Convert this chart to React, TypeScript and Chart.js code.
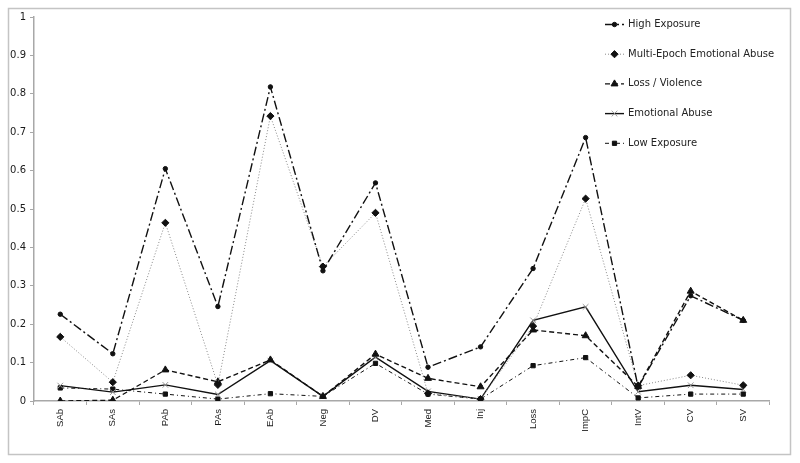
import React, { useEffect, useRef } from "react";
import { Chart, registerables } from "chart.js";
import { drawPoint } from "chart.js/helpers";

Chart.register(...registerables);

const categories = ["SAb", "SAs", "PAb", "PAs", "EAb", "Neg", "DV", "Med", "Inj", "Loss", "ImpC", "IntV", "CV", "SV"];
const yTickLabels = [0, 0.1, 0.2, 0.3, 0.4, 0.5, 0.6, 0.7, 0.8, 0.9, 1];

const highExposure = [0.226, 0.123, 0.605, 0.246, 0.818, 0.339, 0.568, 0.088, 0.141, 0.345, 0.686, 0.036, 0.274, 0.21];
const multiEpoch = [0.167, 0.049, 0.464, 0.042, 0.742, 0.35, 0.49, 0.02, 0.005, 0.195, 0.527, 0.04, 0.067, 0.041];
const lossViolence = [0, 0.002, 0.081, 0.05, 0.107, 0.012, 0.122, 0.059, 0.037, 0.185, 0.17, 0.038, 0.286, 0.21];
const emotionalAbuse = [0.04, 0.023, 0.042, 0.017, 0.105, 0.012, 0.114, 0.025, 0.005, 0.21, 0.245, 0.024, 0.041, 0.03];
const lowExposure = [0.034, 0.031, 0.018, 0.005, 0.019, 0.012, 0.098, 0.018, 0.005, 0.092, 0.113, 0.008, 0.018, 0.018];

const seriesNames = ["High Exposure", "Multi-Epoch Emotional Abuse", "Loss / Violence", "Emotional Abuse", "Low Exposure"];

const AXIS_GRAY = "#a8a8a8";

const borderPlugin = {
  id: "outerBorder",
  beforeDraw(chart: any) {
    const ctx = chart.ctx;
    ctx.save();
    ctx.fillStyle = "#ffffff";
    ctx.fillRect(0, 0, chart.width, chart.height);
    ctx.strokeStyle = "#c4c4c4";
    ctx.lineWidth = 1.5;
    ctx.strokeRect(8.5, 8.5, 782, 446);
    ctx.restore();
  },
};

const legendPlugin = {
  id: "customLegend",
  afterDraw(chart: any) {
    const ctx = chart.ctx;
    const x0 = 605;
    const x1 = 624;
    const startY = 24.5;
    const step = 29.7;
    chart.data.datasets.forEach((ds: any, i: number) => {
      const y = startY + i * step;
      ctx.save();
      ctx.strokeStyle = ds.borderColor;
      ctx.lineWidth = ds.borderWidth;
      ctx.setLineDash(ds.borderDash || []);
      ctx.beginPath();
      ctx.moveTo(x0, y);
      ctx.lineTo(x1, y);
      ctx.stroke();
      ctx.setLineDash([]);
      ctx.fillStyle = ds.pointBackgroundColor;
      ctx.strokeStyle = ds.pointBorderColor;
      ctx.lineWidth = ds.pointBorderWidth;
      drawPoint(ctx, { pointStyle: ds.pointStyle, radius: ds.pointRadius, borderWidth: ds.pointBorderWidth, rotation: 0 }, (x0 + x1) / 2, y);
      ctx.fillStyle = "#222222";
      ctx.font = '10px "DejaVu Sans"';
      ctx.textBaseline = "middle";
      ctx.textAlign = "left";
      ctx.fillText(ds.label, 628, y);
      ctx.restore();
    });
  },
};

export default function App() {
  const ref = useRef<HTMLCanvasElement | null>(null);

  useEffect(() => {
    if (!ref.current) return;
    const chart = new Chart(ref.current, {
      type: "line",
      data: {
        labels: categories,
        datasets: [
          {
            label: seriesNames[0],
            data: highExposure,
            borderColor: "#111111",
            borderWidth: 1.4,
            borderDash: [9, 3, 2, 3],
            pointStyle: "circle",
            pointRadius: 2.2,
            pointBackgroundColor: "#111111",
            pointBorderColor: "#111111",
            pointBorderWidth: 1,
            tension: 0,
          },
          {
            label: seriesNames[1],
            data: multiEpoch,
            borderColor: "#8a8a8a",
            borderWidth: 1,
            borderDash: [1, 2],
            pointStyle: "rectRot",
            pointRadius: 3.6,
            pointBackgroundColor: "#111111",
            pointBorderColor: "#111111",
            pointBorderWidth: 1,
            tension: 0,
          },
          {
            label: seriesNames[2],
            data: lossViolence,
            borderColor: "#111111",
            borderWidth: 1.4,
            borderDash: [5, 3],
            pointStyle: "triangle",
            pointRadius: 4,
            pointBackgroundColor: "#111111",
            pointBorderColor: "#111111",
            pointBorderWidth: 1,
            tension: 0,
          },
          {
            label: seriesNames[3],
            data: emotionalAbuse,
            borderColor: "#111111",
            borderWidth: 1.4,
            borderDash: [],
            pointStyle: "crossRot",
            pointRadius: 4,
            pointBackgroundColor: "#999999",
            pointBorderColor: "#999999",
            pointBorderWidth: 1,
            tension: 0,
          },
          {
            label: seriesNames[4],
            data: lowExposure,
            borderColor: "#111111",
            borderWidth: 1,
            borderDash: [4, 3, 1, 3],
            pointStyle: "rect",
            pointRadius: 3,
            pointBackgroundColor: "#111111",
            pointBorderColor: "#111111",
            pointBorderWidth: 1,
            tension: 0,
          },
        ],
      },
      options: {
        animation: false,
        responsive: true,
        maintainAspectRatio: false,
        layout: { padding: { left: 0, right: 30.5, top: 17, bottom: 0 } },
        plugins: { legend: { display: false }, tooltip: { enabled: false } },
        scales: {
          x: {
            offset: true,
            afterFit: (s: any) => {
              s.height = 62;
            },
            grid: {
              offset: true,
              drawOnChartArea: false,
              drawTicks: true,
              tickLength: 4,
              color: AXIS_GRAY,
            },
            border: { color: AXIS_GRAY, width: 1.5 },
            ticks: {
              autoSkip: false,
              minRotation: 90,
              maxRotation: 90,
              padding: 4,
              color: "#1a1a1a",
              font: { family: '"Liberation Sans", Arial', size: 9.5 },
            },
          },
          y: {
            min: 0,
            max: 1,
            afterFit: (s: any) => {
              s.width = 34;
            },
            afterBuildTicks: (s: any) => {
              s.ticks = yTickLabels.map((v) => ({ value: v }));
            },
            grid: {
              drawOnChartArea: false,
              drawTicks: true,
              tickLength: 4,
              color: AXIS_GRAY,
            },
            border: { color: AXIS_GRAY, width: 1.5 },
            ticks: {
              padding: 4,
              color: "#1a1a1a",
              font: { family: '"DejaVu Sans"', size: 10 },
              callback: (v: any) => String(Math.round(Number(v) * 10) / 10),
            },
          },
        },
      },
      plugins: [borderPlugin, legendPlugin],
    } as any);
    return () => chart.destroy();
  }, []);

  return (
    <div style={{ position: "fixed", left: 0, top: 0, width: 800, height: 463, background: "#fff" }}>
      <canvas ref={ref} />
    </div>
  );
}
